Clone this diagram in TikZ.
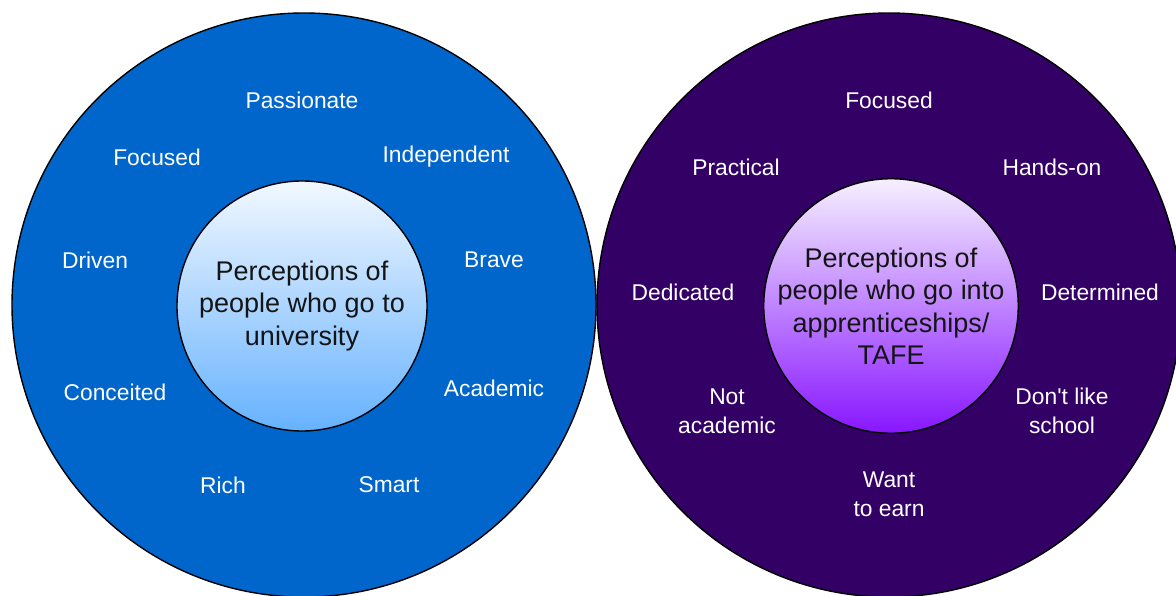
\documentclass[tikz,border=0pt]{standalone}
\usepackage{fontspec}
\setmainfont{Liberation Sans}
% plain family without TeX ligatures, so ' stays a straight apostrophe
\newfontfamily\labelfont{Liberation Sans}
\definecolor{uniBlue}{RGB}{0,102,204}
\definecolor{tafePurple}{RGB}{51,0,102}
\definecolor{uniTop}{RGB}{242,248,255}
\definecolor{uniBottom}{RGB}{102,178,255}
\definecolor{tafeTop}{RGB}{246,240,255}
\definecolor{tafeBottom}{RGB}{136,22,255}
\definecolor{coreText}{RGB}{20,20,20}
\begin{document}
\begin{tikzpicture}[x=1pt,y=-1pt,
  ring/.style={circle, draw=black, line width=1.4pt, minimum size=584pt, inner sep=0pt},
  core/.style={circle, draw=black, line width=1.4pt, minimum size=250pt, inner sep=0pt,
    align=center, text=coreText, font=\labelfont\fontsize{27}{32.5}\selectfont},
  trait/.style={text=white, align=center, inner sep=0pt,
    font=\labelfont\fontsize{22.8}{29}\selectfont},
]
\useasboundingbox (0,0) rectangle (1176,596);
\fill[white] (0,0) rectangle (1176,596);
\clip (0,0) rectangle (1176,596);

% ---- university ----
\node[ring, fill=uniBlue] (uniRing) at (304,305) {};
\node[core, top color=uniTop, bottom color=uniBottom] (uniCore) at (302,306)
  {Perceptions of\\people who go to\\university};

\node[trait] (u1) at (302,100) {Passionate};
\node[trait] (u2) at (157,157) {Focused};
\node[trait] (u3) at (446,157) {Independent};
\node[trait] (u4) at (95,260)  {Driven};
\node[trait] (u5) at (494,260) {Brave};
\node[trait] (u6) at (115,392) {Conceited};
\node[trait] (u7) at (494,388) {Academic};
\node[trait] (u8) at (223,485) {Rich};
\node[trait] (u9) at (389,485) {Smart};

% ---- apprenticeships / TAFE ----
\node[ring, fill=tafePurple] (tafeRing) at (889,305) {};
\node[core, top color=tafeTop, bottom color=tafeBottom] (tafeCore) at (891,306)
  {Perceptions of\\people who go into\\apprenticeships/\\TAFE};

\node[trait] (t1) at (889,100)  {Focused};
\node[trait] (t2) at (736,167)  {Practical};
\node[trait] (t3) at (1052,167) {Hands-on};
\node[trait] (t4) at (683,292)  {Dedicated};
\node[trait] (t5) at (1100,292) {Determined};
\node[trait] (t6) at (727,411)  {Not\\academic};
\node[trait] (t7) at (1062,411) {Don't like\\school};
\node[trait] (t8) at (889,494)  {Want\\to earn};
\end{tikzpicture}
\end{document}
